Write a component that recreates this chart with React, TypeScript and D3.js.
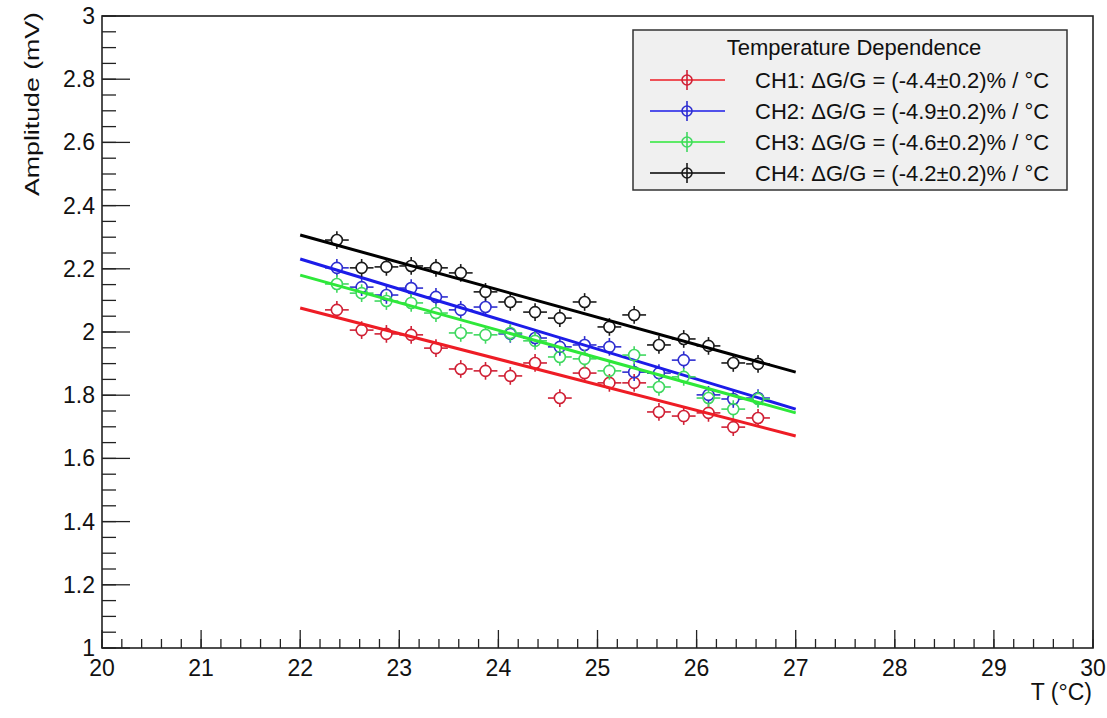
import React from 'react';
import * as d3 from 'd3';

// temperatures (°C) of the measurement points
const temps = [22.37, 22.62, 22.87, 23.12, 23.37, 23.62, 23.87, 24.12, 24.37, 24.62, 24.87, 25.12, 25.37, 25.62, 25.87, 26.12, 26.37, 26.62];

// amplitudes (mV) per channel
const ch1 = [2.070, 2.006, 1.994, 1.991, 1.949, 1.883, 1.877, 1.861, 1.902, 1.791, 1.870, 1.839, 1.839, 1.747, 1.734, 1.744, 1.699, 1.728];
const ch2 = [2.203, 2.142, 2.117, 2.139, 2.111, 2.070, 2.079, 1.994, 1.981, 1.953, 1.959, 1.953, 1.873, 1.870, 1.911, 1.801, 1.788, 1.791];
const ch3 = [2.152, 2.123, 2.098, 2.092, 2.060, 1.997, 1.991, 1.997, 1.972, 1.921, 1.915, 1.877, 1.927, 1.826, 1.858, 1.791, 1.756, 1.788];
const ch4 = [2.291, 2.203, 2.206, 2.209, 2.203, 2.187, 2.127, 2.095, 2.063, 2.044, 2.095, 2.016, 2.054, 1.959, 1.978, 1.956, 1.902, 1.899];

const channelNames = ['CH1', 'CH2', 'CH3', 'CH4'];
const slopes = ['-4.4', '-4.9', '-4.6', '-4.2'];
const slopeErrs = ['0.2', '0.2', '0.2', '0.2'];

// fit lines: value at start and end of fit range
const fitRange = [22, 27];
const fitStart = [2.076, 2.231, 2.180, 2.307];
const fitEnd = [1.671, 1.756, 1.744, 1.873];

const xErr = 0.12;
const yErr = 0.028;

const xTicks = [20, 21, 22, 23, 24, 25, 26, 27, 28, 29, 30];
const yTicks = [1, 1.2, 1.4, 1.6, 1.8, 2, 2.2, 2.4, 2.6, 2.8, 3];

const lineColors = ['#ee1c25', '#1c1ce8', '#2ee83a', '#000000'];
const markerColors = ['#d02035', '#2e2ed0', '#40d860', '#1a1a1a'];

const W = 1107;
const H = 718;
const margin = { top: 16, right: 14, bottom: 70, left: 102 };
const font = '"Liberation Sans", Arial, Helvetica, sans-serif';

const App = () => {
  const series = [ch1, ch2, ch3, ch4];

  const x = d3.scaleLinear().domain([20, 30]).range([margin.left, W - margin.right]);
  const y = d3.scaleLinear().domain([1, 3]).range([H - margin.bottom, margin.top]);

  const x0 = x(20), x1 = x(30), y0 = y(1), y1 = y(3);

  const xMinor = d3.range(20, 30.001, 0.2);
  const yMinor = d3.range(1, 3.001, 0.05);

  const line = d3.line<[number, number]>()
    .x(d => x(d[0]))
    .y(d => y(d[1]));

  const r = 5.5;

  return (
    <div style={{ position: 'absolute', left: 0, top: 0 }}>
      <svg width={W} height={H} style={{ display: 'block', background: '#fff' }} fontFamily={font}>
        {/* minor ticks */}
        {xMinor.map((t, i) => (
          <line key={'xm' + i} x1={x(t)} x2={x(t)} y1={y0} y2={y0 - 9} stroke="#222" strokeWidth={1.3} />
        ))}
        {yMinor.map((t, i) => (
          <line key={'ym' + i} x1={x0} x2={x0 + 14} y1={y(t)} y2={y(t)} stroke="#222" strokeWidth={1.3} />
        ))}
        {/* major ticks and labels */}
        {xTicks.map(t => (
          <g key={'xt' + t}>
            <line x1={x(t)} x2={x(t)} y1={y0} y2={y0 - 18} stroke="#222" strokeWidth={1.3} />
            <text x={x(t)} y={676} textAnchor="middle" fontSize={23} fill="#111">{String(t)}</text>
          </g>
        ))}
        {yTicks.map(t => (
          <g key={'yt' + t}>
            <line x1={x0} x2={x0 + 28} y1={y(t)} y2={y(t)} stroke="#222" strokeWidth={1.3} />
            <text x={95} y={y(t) + 8} textAnchor="end" fontSize={23} fill="#111">{String(t)}</text>
          </g>
        ))}

        {/* frame */}
        <rect x={x0} y={y1} width={x1 - x0} height={y0 - y1} fill="none" stroke="#222" strokeWidth={1.6} />

        {/* axis titles */}
        <text x={1092} y={700} textAnchor="end" fontSize={23} fill="#111">T (°C)</text>
        <text transform="translate(39,196) rotate(-90)" fontSize={21} fill="#111" textLength={184} lengthAdjust="spacingAndGlyphs">Amplitude (mV)</text>

        {/* data */}
        {series.map((vals, si) => {
          const col = markerColors[si];
          return (
            <g key={'s' + si}>
              {vals.map((v, i) => {
                const cx = x(temps[i]);
                const cy = y(v);
                const xl = x(temps[i] - xErr), xr = x(temps[i] + xErr);
                const yt = y(v + yErr), yb = y(v - yErr);
                return (
                  <g key={i} stroke={col} strokeWidth={1.6} fill="none">
                    <line x1={xl} x2={cx - r} y1={cy} y2={cy} />
                    <line x1={cx + r} x2={xr} y1={cy} y2={cy} />
                    {cy - r > yt && <line x1={cx} x2={cx} y1={yt} y2={cy - r} />}
                    {yb > cy + r && <line x1={cx} x2={cx} y1={cy + r} y2={yb} />}
                    <circle cx={cx} cy={cy} r={r} />
                  </g>
                );
              })}
              <path
                d={line([[fitRange[0], fitStart[si]], [fitRange[1], fitEnd[si]]]) || ''}
                fill="none"
                stroke={lineColors[si]}
                strokeWidth={3}
              />
            </g>
          );
        })}

        {/* legend */}
        <g>
          <rect x={633} y={30} width={434} height={160} fill="#f0f0f0" stroke="#333" strokeWidth={1.5} />
          <text x={854} y={55} textAnchor="middle" fontSize={22} fill="#111">Temperature Dependence</text>
          {channelNames.map((name, i) => {
            const ly = 80 + i * 31;
            return (
              <g key={'lg' + i}>
                <line x1={650} x2={725} y1={ly} y2={ly} stroke={lineColors[i]} strokeWidth={1.6} />
                <line x1={687} x2={687} y1={ly - 10} y2={ly + 10} stroke={markerColors[i]} strokeWidth={1.6} />
                <circle cx={687} cy={ly} r={5} fill="none" stroke={markerColors[i]} strokeWidth={1.6} />
                <text x={755} y={ly + 7.5} fontSize={22} fill="#111">
                  {`${name}: ΔG/G = (${slopes[i]}±${slopeErrs[i]})% / °C`}
                </text>
              </g>
            );
          })}
        </g>
      </svg>
    </div>
  );
};

export default App;
